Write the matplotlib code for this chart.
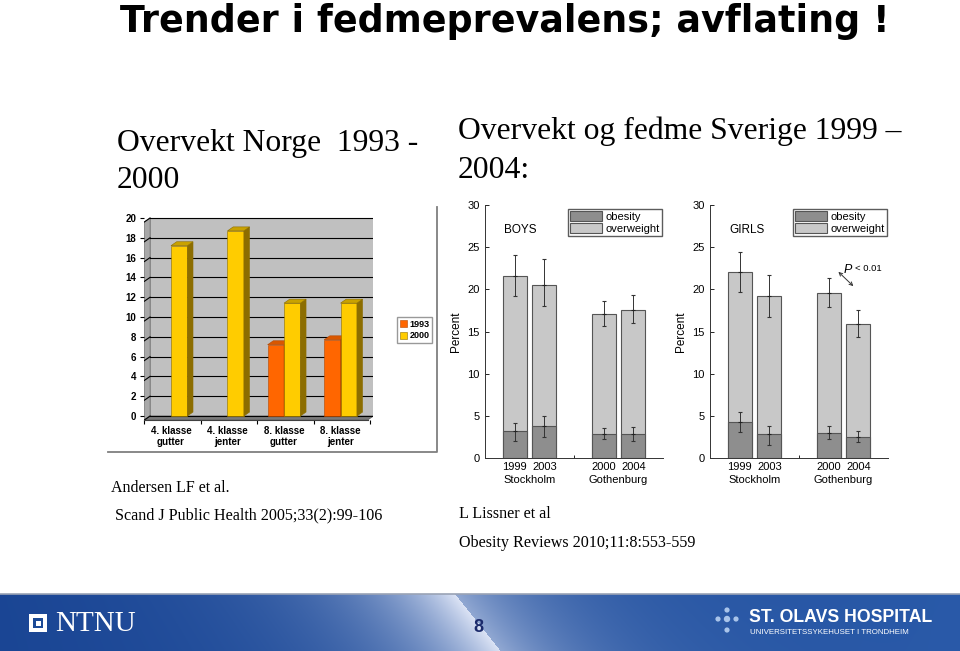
import numpy as np
import matplotlib
matplotlib.use('Agg')
import matplotlib.pyplot as plt
from matplotlib.patches import Rectangle, Polygon, Patch, Circle

# --- data ---
nor_cats = ['4. klasse\ngutter', '4. klasse\njenter', '8. klasse\ngutter', '8. klasse\njenter']
nor_1993 = [np.nan, np.nan, 7.2, 7.7]
nor_2000 = [17.2, 18.7, 11.4, 11.4]

swe_years = ['1999', '2003', '2000', '2004']
swe_sites = ['Stockholm', 'Gothenburg']

boys_over = [21.6, 20.5, 17.1, 17.6]
boys_over_lo = [19.2, 18.0, 15.6, 16.0]
boys_over_hi = [24.1, 23.6, 18.6, 19.3]
boys_obes = [3.2, 3.8, 2.9, 2.8]
boys_obes_lo = [2.0, 2.5, 2.2, 2.0]
boys_obes_hi = [4.2, 5.0, 3.6, 3.7]

girls_over = [22.1, 19.2, 19.6, 15.9]
girls_over_lo = [19.7, 16.7, 17.9, 14.4]
girls_over_hi = [24.4, 21.7, 21.3, 17.6]
girls_obes = [4.3, 2.8, 3.0, 2.5]
girls_obes_lo = [3.1, 1.6, 2.2, 1.9]
girls_obes_hi = [5.5, 3.8, 3.8, 3.2]

W, H = 960, 651
SERIF = 'Liberation Serif'
SANS = 'Liberation Sans'


def fx(x):
    return x / W


def fy(y):
    return 1 - y / H


fig = plt.figure(figsize=(W / 100, H / 100), dpi=100)
fig.patch.set_facecolor('white')

# --- background / footer ---
bg = fig.add_axes([0, 0, 1, 1], zorder=-10)
bg.set_xlim(0, W)
bg.set_ylim(H, 0)
bg.axis('off')

ys = np.arange(594, H)[:, None]
xs = np.arange(W)[None, :]
left_c = np.array([0.10, 0.27, 0.58])
right_c = np.array([0.16, 0.35, 0.66])
light = np.array([0.86, 0.89, 0.96])
frac = xs / W
base = left_c[None, None, :] * (1 - frac[..., None]) + right_c[None, None, :] * frac[..., None]
edge = 455 + (ys - 594) * 0.8
t = np.where(xs < edge, np.exp(-(edge - xs) / 90.0), 0.6 * np.exp(-(xs - edge) / 90.0))
band = base * (1 - t[..., None]) + light[None, None, :] * t[..., None]
bg.imshow(band, extent=[0, W, H, 594], aspect='auto', zorder=0)
bg.plot([0, W], [594, 594], color='#9aa3b5', lw=1.2, zorder=1)

# NTNU logo
bg.add_patch(Rectangle((29, 614), 18, 18, fc='white', ec='none', zorder=2))
bg.add_patch(Rectangle((33, 618), 10, 10, fc='#1c4a96', ec='none', zorder=3))
bg.add_patch(Rectangle((35.5, 620.5), 5, 5, fc='white', ec='none', zorder=4))
fig.text(fx(55), fy(624), 'NTNU', family=SERIF, fontsize=21, color='white', va='center', ha='left')
fig.text(fx(478), fy(628), '8', family=SANS, fontsize=13, fontweight='bold', color='#1b2a6b',
         va='center', ha='center')
for cx, cy, r in [(727, 610, 2.6), (718, 619, 2.6), (727, 619, 3.2), (736, 619, 2.6), (727, 630, 2.6)]:
    bg.add_patch(Circle((cx, cy), r, fc='#a9c4ea', ec='none', zorder=2))
fig.text(fx(749), fy(617), 'ST. OLAVS HOSPITAL', family=SANS, fontsize=12.7, fontweight='bold',
         color='white', va='center', ha='left')
fig.text(fx(750), fy(633), 'UNIVERSITETSSYKEHUSET I TRONDHEIM', family=SANS, fontsize=5.7,
         color='white', va='center', ha='left')

# --- titles & texts ---
fig.text(fx(120), fy(21), 'Trender i fedmeprevalens; avflating !', family='DejaVu Sans',
         fontsize=26.3, fontweight='bold', va='center', ha='left')
fig.text(fx(117), fy(143), 'Overvekt Norge  1993 -', family=SERIF, fontsize=22.8, va='center', ha='left')
fig.text(fx(117), fy(181), '2000', family=SERIF, fontsize=22.8, va='center', ha='left')
fig.text(fx(458), fy(131), 'Overvekt og fedme Sverige 1999 \u2013', family=SERIF, fontsize=22.8,
         va='center', ha='left')
fig.text(fx(458), fy(171), '2004:', family=SERIF, fontsize=22.8, va='center', ha='left')
fig.text(fx(111), fy(488), 'Andersen LF et al.', family=SERIF, fontsize=11.5, va='center', ha='left')
fig.text(fx(115), fy(515), 'Scand J Public Health 2005;33(2):99-106', family=SERIF, fontsize=11.6,
         va='center', ha='left')
fig.text(fx(459), fy(514), 'L Lissner et al', family=SERIF, fontsize=11.6, va='center', ha='left')
fig.text(fx(459), fy(543), 'Obesity Reviews 2010;11:8:553-559', family=SERIF, fontsize=11.6,
         va='center', ha='left')

# --- Norway chart (3D style bars) ---
bg.plot([108, 437, 437], [452, 452, 207], color='#7f7f7f', lw=1.3, zorder=1)

axn = fig.add_axes([fx(144.4), fy(420), (373.3 - 144.4) / W, (420 - 216) / H])
axn.set_xlim(-0.47, 3.58)
axn.set_ylim(-0.4, 20.2)
axn.set_facecolor('none')
dx, dy = 0.1, 0.4
wl, wr = -0.37, 3.58
axn.add_patch(Rectangle((wl, 0), wr - wl, 20, fc='#c0c0c0', ec='#808080', lw=0.6, zorder=0))
axn.add_patch(Polygon([(wl - dx, -dy), (wl, 0), (wl, 20), (wl - dx, 20 - dy)], closed=True,
                      fc='#a8a8a8', ec='#808080', lw=0.6, zorder=0))
axn.add_patch(Polygon([(wl - dx, -dy), (wr - dx, -dy), (wr, 0), (wl, 0)], closed=True,
                      fc='#7a7a7a', ec='#606060', lw=0.6, zorder=0.5))
for g in np.arange(0, 21, 2):
    axn.plot([wl, wr], [g, g], color='black', lw=0.8, zorder=0.6)
    axn.plot([wl - dx, wl], [g - dy, g], color='black', lw=0.8, zorder=0.6)

bw = 0.29
xc = np.arange(len(nor_cats))


def bars3d(ax, xpos, vals, front, side, top):
    for x0, v in zip(xpos, vals):
        if np.isnan(v):
            continue
        ax.bar(x0, v, bw, align='edge', color=front, edgecolor=side, lw=0.4, zorder=2)
        ax.add_patch(Polygon([(x0 + bw, 0), (x0 + bw + dx, dy), (x0 + bw + dx, v + dy), (x0 + bw, v)],
                             closed=True, fc=side, ec=side, lw=0.4, zorder=2))
        ax.add_patch(Polygon([(x0, v), (x0 + bw, v), (x0 + bw + dx, v + dy), (x0 + dx, v + dy)],
                             closed=True, fc=top, ec=side, lw=0.4, zorder=2))


bars3d(axn, xc - bw, nor_1993, '#ff6600', '#b34700', '#d95700')
bars3d(axn, xc, nor_2000, '#ffcc00', '#8c6d00', '#c9a200')

for s in ['top', 'right', 'left']:
    axn.spines[s].set_visible(False)
axn.spines['bottom'].set_bounds(-0.47, 3.48)
axn.spines['bottom'].set_color('#404040')
axn.set_yticks(np.arange(0, 21, 2))
axn.set_yticklabels([str(v) for v in range(0, 21, 2)], fontsize=7, fontweight='bold', family=SANS)
axn.tick_params(axis='y', length=3, width=0.8, pad=3)
axn.set_xticks(xc)
axn.set_xticklabels(nor_cats, fontsize=7, fontweight='bold', family=SANS, linespacing=1.2)
axn.tick_params(axis='x', length=0, pad=4)
axn.set_xticks(np.arange(len(nor_cats) + 1) - 0.47, minor=True)
axn.tick_params(axis='x', which='minor', length=3, width=0.8)

axn.legend(handles=[Patch(fc='#ff6600', ec='#b34700', lw=0.4, label='1993'),
                    Patch(fc='#ffcc00', ec='#8c6d00', lw=0.4, label='2000')],
           loc='upper left', bbox_to_anchor=(fx(397), fy(317)), bbox_transform=fig.transFigure,
           prop={'family': SANS, 'weight': 'bold', 'size': 6.5}, frameon=True, fancybox=False,
           edgecolor='#808080', handlelength=0.8, handleheight=0.8, handletextpad=0.3,
           borderpad=0.3, labelspacing=0.3, borderaxespad=0)


# --- Sweden charts ---
def sweden(left, label, over, over_lo, over_hi, obes, obes_lo, obes_hi):
    ax = fig.add_axes([fx(left), fy(458), 178 / W, 253 / H])
    xb = np.array([1, 2, 4, 5])
    over = np.array(over)
    obes = np.array(obes)
    ax.bar(xb, over, 0.8, color='#c8c8c8', edgecolor='#555555', lw=0.8, zorder=2)
    ax.bar(xb, obes, 0.8, color='#8e8e8e', edgecolor='#555555', lw=0.8, zorder=2)
    for v, lo, hi in [(over, over_lo, over_hi), (obes, obes_lo, obes_hi)]:
        ax.errorbar(xb, v, yerr=[v - np.array(lo), np.array(hi) - v], fmt='_', ms=3, mew=0.8,
                    color='#222222', ecolor='#333333', elinewidth=0.7, capsize=1.2, capthick=0.7,
                    zorder=3)
    ax.set_xlim(0, 6)
    ax.set_ylim(0, 30)
    for s in ['top', 'right']:
        ax.spines[s].set_visible(False)
    for s in ['left', 'bottom']:
        ax.spines[s].set_linewidth(0.7)
        ax.spines[s].set_color('#333333')
    ax.set_yticks(np.arange(0, 31, 5))
    ax.set_yticklabels([str(v) for v in range(0, 31, 5)], fontsize=8, family=SANS)
    ax.tick_params(axis='y', direction='in', length=3, width=0.6, pad=4)
    ax.set_xticks(xb)
    ax.set_xticklabels(swe_years, fontsize=8, family=SANS)
    ax.tick_params(axis='x', length=0, pad=3)
    ax.set_xticks([3], minor=True)
    ax.tick_params(axis='x', which='minor', direction='in', length=2.5, width=0.6)
    for i, site in enumerate(swe_sites):
        ax.text(xb[2 * i:2 * i + 2].mean(), -0.088, site, transform=ax.get_xaxis_transform(),
                ha='center', va='center', fontsize=8, family=SANS)
    ax.set_ylabel('Percent', fontsize=8.5, family=SANS, labelpad=4)
    ax.text(0.65, 27, label, fontsize=8.5, family=SANS, va='center', ha='left')
    ax.legend(handles=[Patch(fc='#8e8e8e', ec='#555555', lw=0.8, label='obesity'),
                       Patch(fc='#c8c8c8', ec='#555555', lw=0.8, label='overweight'),
                       ],
              loc='upper right', bbox_to_anchor=(0.995, 0.985), prop={'family': SANS, 'size': 8},
              frameon=True, fancybox=False, edgecolor='#333333', handlelength=2.9,
              handleheight=1.05, handletextpad=0.3, borderpad=0.2, labelspacing=0.1,
              borderaxespad=0)
    return ax


sweden(485, 'BOYS', boys_over, boys_over_lo, boys_over_hi, boys_obes, boys_obes_lo, boys_obes_hi)
axg = sweden(710, 'GIRLS', girls_over, girls_over_lo, girls_over_hi, girls_obes, girls_obes_lo,
             girls_obes_hi)
axg.annotate('', xy=(4.9, 20.15), xytext=(4.26, 22.3),
             arrowprops=dict(arrowstyle='<->', lw=0.7, color='#333333', mutation_scale=6))
axg.text(4.5, 22.3, 'P', fontsize=9, fontstyle='italic', family=SANS, va='center', ha='left')
axg.text(4.88, 22.5, '< 0.01', fontsize=6.8, family=SANS, va='center', ha='left')

fig.savefig('out.png', dpi=100)
